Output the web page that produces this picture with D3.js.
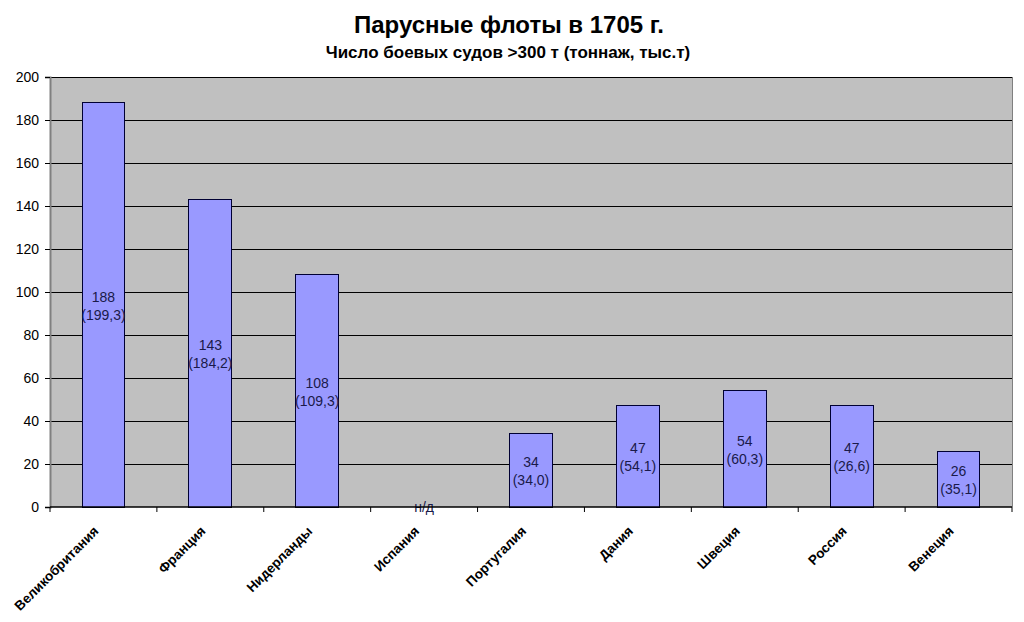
<!DOCTYPE html>
<html><head><meta charset="utf-8">
<script src="https://cdn.jsdelivr.net/npm/d3@7"></script>
<style>body{margin:0;background:#fff;}svg{display:block;font-family:"Liberation Sans",Arial,sans-serif;}</style>
</head><body>
<svg id="c" width="1024" height="622"></svg>
<script>
const categories = ["Великобритания","Франция","Нидерланды","Испания","Португалия","Дания","Швеция","Россия","Венеция"];
const ships = [188,143,108,null,34,47,54,47,26];
const tonnage = ["199,3","184,2","109,3",null,"34,0","54,1","60,3","26,6","35,1"];
const yTicks = [0,20,40,60,80,100,120,140,160,180,200];
const title = "Парусные флоты в 1705 г.";
const subtitle = "Число боевых судов >300 т (тоннаж, тыс.т)";

const svg = d3.select("#c");
const L = 50, R = 1012, T = 77, B = 507;
const x = d3.scaleBand().domain(categories).range([L, R]).paddingInner(0.6).paddingOuter(0.3);
const xb = d3.scaleBand().domain(categories).range([L, R]);
const y = d3.scaleLinear().domain([0, 200]).range([B, T]);

svg.append("rect").attr("x", L).attr("y", T).attr("width", R - L).attr("height", B - T).attr("fill", "#c0c0c0");
svg.append("g").selectAll("line").data(yTicks.filter(d => d > 0)).join("line")
  .attr("x1", L).attr("x2", R).attr("y1", d => y(d)).attr("y2", d => y(d))
  .attr("stroke", "#000").attr("stroke-width", 1).attr("shape-rendering", "crispEdges");
svg.append("line").attr("x1", R).attr("x2", R).attr("y1", T).attr("y2", B).attr("stroke", "#808080").attr("shape-rendering", "crispEdges");

const data = categories.map((c, i) => ({c, v: ships[i], t: tonnage[i]}));
svg.append("g").selectAll("rect").data(data.filter(d => d.v != null)).join("rect")
  .attr("x", d => x(d.c)).attr("width", x.bandwidth())
  .attr("y", d => y(d.v)).attr("height", d => y(0) - y(d.v))
  .attr("fill", "#9999ff").attr("stroke", "#000033").attr("stroke-width", 1).attr("shape-rendering", "crispEdges");

const lab = svg.append("g").attr("font-size", 14).attr("fill", "#1a1a4a").attr("text-anchor", "middle");
data.forEach(d => {
  const cx = x(d.c) + x.bandwidth() / 2;
  if (d.v == null) {
    lab.append("text").attr("x", cx).attr("y", y(0) + 5).text("н/д");
  } else {
    const cy = (y(d.v) + y(0)) / 2;
    lab.append("text").attr("x", cx).attr("y", cy - 3).text(d.v);
    lab.append("text").attr("x", cx).attr("y", cy + 15).text("(" + d.t + ")");
  }
});

// y axis
const ya = svg.append("g").attr("transform", `translate(${L},0)`)
  .call(d3.axisLeft(y).tickValues(yTicks).tickSize(5).tickPadding(6));
ya.select(".domain").attr("stroke", "#808080").attr("stroke-width", 2);
ya.selectAll(".tick line").attr("stroke", "#000");
ya.selectAll(".tick text").attr("font-size", 14).attr("fill", "#000").attr("font-family", "Liberation Sans, Arial, sans-serif");

// x axis
const xa = svg.append("g").attr("transform", `translate(0,${B})`);
xa.append("line").attr("x1", L).attr("x2", R).attr("stroke", "#000").attr("stroke-width", 1.5);
xa.selectAll("line.t").data(d3.range(categories.length + 1)).join("line").attr("class", "t")
  .attr("x1", i => L + i * xb.step()).attr("x2", i => L + i * xb.step())
  .attr("y1", 0).attr("y2", 5).attr("stroke", "#000");
xa.selectAll("text").data(categories).join("text")
  .attr("transform", d => `translate(${xb(d) + xb.bandwidth() / 2 - 4},${25}) rotate(-45)`)
  .attr("text-anchor", "end").attr("font-size", 13.5).attr("font-weight", "bold").attr("fill", "#000")
  .text(d => d);

svg.append("text").attr("x", 509).attr("y", 33).attr("text-anchor", "middle")
  .attr("font-size", 24).attr("font-weight", "bold").text(title);
svg.append("text").attr("x", 508).attr("y", 58).attr("text-anchor", "middle")
  .attr("font-size", 17).attr("font-weight", "bold").text(subtitle);
</script>
</body></html>
